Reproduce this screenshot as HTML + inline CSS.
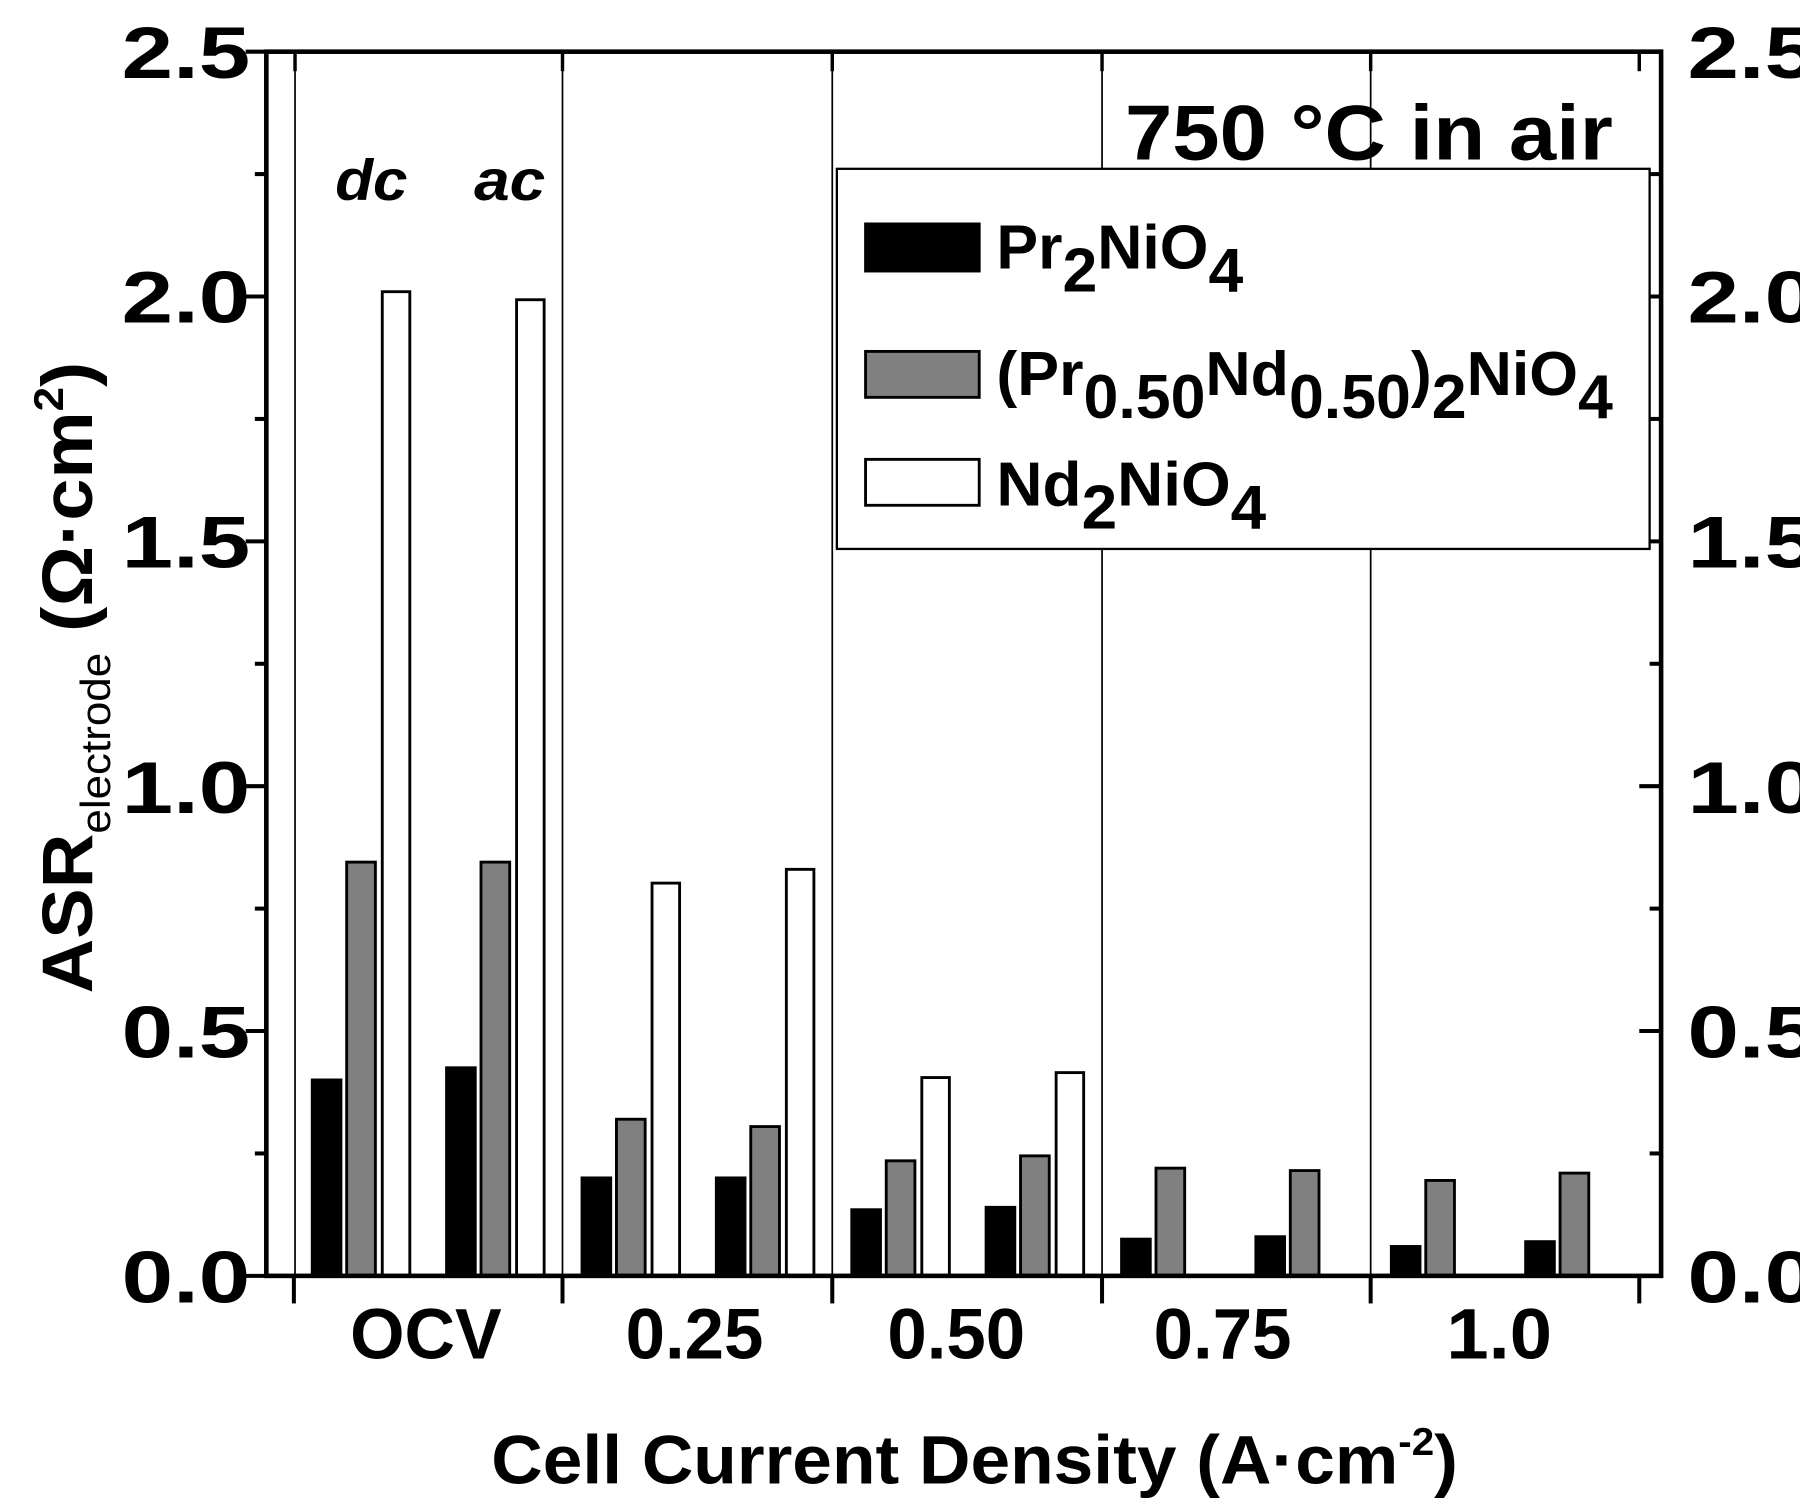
<!DOCTYPE html>
<html><head><meta charset="utf-8"><style>html,body{margin:0;padding:0;background:#fff}svg{display:block}</style></head>
<body>
<svg width="1800" height="1509" viewBox="0 0 1568 1314" preserveAspectRatio="none" xmlns="http://www.w3.org/2000/svg" font-family="Liberation Sans, Arial, sans-serif" font-weight="bold">
<rect width="1568" height="1314" fill="#fff"/>
<g stroke="#000" stroke-width="1.5">
<line x1="257" y1="45" x2="257" y2="1111"/>
<line x1="490" y1="45" x2="490" y2="1111"/>
<line x1="725" y1="45" x2="725" y2="1111"/>
<line x1="960" y1="45" x2="960" y2="1111"/>
<line x1="1194" y1="45" x2="1194" y2="1111"/>
</g>
<g stroke="#000" stroke-width="3">
<line x1="257" y1="45" x2="257" y2="62"/><line x1="490" y1="45" x2="490" y2="62"/><line x1="725" y1="45" x2="725" y2="62"/><line x1="960" y1="45" x2="960" y2="62"/><line x1="1194" y1="45" x2="1194" y2="62"/><line x1="1428" y1="45" x2="1428" y2="62"/>
</g>
<g stroke="#000" stroke-width="2.5">
<g fill="#000">
<rect x="272" y="940.4" width="25" height="170.6"/><rect x="389" y="929.8" width="25" height="181.2"/>
<rect x="507" y="1025.7" width="25" height="85.3"/><rect x="624" y="1025.7" width="25" height="85.3"/>
<rect x="742" y="1053.4" width="25" height="57.6"/><rect x="859" y="1051.3" width="25" height="59.7"/>
<rect x="977" y="1079" width="25" height="32"/><rect x="1094" y="1076.9" width="25" height="34.1"/>
<rect x="1212" y="1085.4" width="25" height="25.6"/><rect x="1329" y="1081.2" width="25" height="29.8"/>
</g>
<g fill="#808080">
<rect x="302" y="750.7" width="25" height="360.3"/><rect x="419" y="750.7" width="25" height="360.3"/>
<rect x="537" y="974.6" width="25" height="136.4"/><rect x="654" y="981" width="25" height="130"/>
<rect x="772" y="1010.8" width="25" height="100.2"/><rect x="889" y="1006.5" width="25" height="104.5"/>
<rect x="1007" y="1017.2" width="25" height="93.8"/><rect x="1124" y="1019.3" width="25" height="91.7"/>
<rect x="1242" y="1027.9" width="25" height="83.1"/><rect x="1359" y="1021.5" width="25" height="89.5"/>
</g>
<g fill="#fff">
<rect x="333" y="254" width="24" height="857"/><rect x="450" y="261" width="24" height="850"/>
<rect x="568" y="769" width="24" height="342"/><rect x="685" y="757" width="24" height="354"/>
<rect x="803" y="938.3" width="24" height="172.7"/><rect x="920" y="934" width="24" height="177"/>
</g>
</g>
<rect x="232" y="45" width="1215" height="1066" fill="none" stroke="#000" stroke-width="4"/>
<g stroke="#000" stroke-width="3.5">
<line x1="232" y1="45" x2="214" y2="45"/><line x1="232" y1="258.2" x2="214" y2="258.2"/><line x1="232" y1="471.4" x2="214" y2="471.4"/><line x1="232" y1="684.6" x2="214" y2="684.6"/><line x1="232" y1="897.8" x2="214" y2="897.8"/><line x1="232" y1="1111" x2="214" y2="1111"/>
<line x1="232" y1="151.6" x2="222" y2="151.6"/><line x1="232" y1="364.8" x2="222" y2="364.8"/><line x1="232" y1="578" x2="222" y2="578"/><line x1="232" y1="791.2" x2="222" y2="791.2"/><line x1="232" y1="1004.4" x2="222" y2="1004.4"/>
<line x1="1447" y1="258.2" x2="1428" y2="258.2"/><line x1="1447" y1="471.4" x2="1428" y2="471.4"/><line x1="1447" y1="684.6" x2="1428" y2="684.6"/><line x1="1447" y1="897.8" x2="1428" y2="897.8"/>
<line x1="1447" y1="151.6" x2="1437" y2="151.6"/><line x1="1447" y1="364.8" x2="1437" y2="364.8"/><line x1="1447" y1="578" x2="1437" y2="578"/><line x1="1447" y1="791.2" x2="1437" y2="791.2"/><line x1="1447" y1="1004.4" x2="1437" y2="1004.4"/>
<line x1="256" y1="1111" x2="256" y2="1135"/><line x1="490" y1="1111" x2="490" y2="1135"/><line x1="725" y1="1111" x2="725" y2="1135"/><line x1="960" y1="1111" x2="960" y2="1135"/><line x1="1194" y1="1111" x2="1194" y2="1135"/><line x1="1428" y1="1111" x2="1428" y2="1135"/>
</g>
<g font-size="64">
<text x="106" y="68" textLength="112" lengthAdjust="spacingAndGlyphs">2.5</text>
<text x="106" y="281" textLength="112" lengthAdjust="spacingAndGlyphs">2.0</text>
<text x="106" y="494" textLength="112" lengthAdjust="spacingAndGlyphs">1.5</text>
<text x="106" y="708" textLength="112" lengthAdjust="spacingAndGlyphs">1.0</text>
<text x="106" y="921" textLength="112" lengthAdjust="spacingAndGlyphs">0.5</text>
<text x="106" y="1134" textLength="112" lengthAdjust="spacingAndGlyphs">0.0</text>
<text x="1470" y="68" textLength="112" lengthAdjust="spacingAndGlyphs">2.5</text>
<text x="1470" y="281" textLength="112" lengthAdjust="spacingAndGlyphs">2.0</text>
<text x="1470" y="494" textLength="112" lengthAdjust="spacingAndGlyphs">1.5</text>
<text x="1470" y="708" textLength="112" lengthAdjust="spacingAndGlyphs">1.0</text>
<text x="1470" y="921" textLength="112" lengthAdjust="spacingAndGlyphs">0.5</text>
<text x="1470" y="1134" textLength="112" lengthAdjust="spacingAndGlyphs">0.0</text>
</g>
<g font-size="62">
<text x="305" y="1183" textLength="132" lengthAdjust="spacingAndGlyphs">OCV</text>
<text x="545" y="1183" textLength="120" lengthAdjust="spacingAndGlyphs">0.25</text>
<text x="773" y="1183" textLength="120" lengthAdjust="spacingAndGlyphs">0.50</text>
<text x="1005" y="1183" textLength="120" lengthAdjust="spacingAndGlyphs">0.75</text>
<text x="1260" y="1183" textLength="92" lengthAdjust="spacingAndGlyphs">1.0</text>
</g>
<text x="428" y="1292" font-size="60" textLength="842" lengthAdjust="spacingAndGlyphs">Cell Current Density (A·cm<tspan dy="-25" font-size="34">-2</tspan><tspan dy="25">)</tspan></text>
<text transform="translate(80,865) rotate(-90)" font-size="62" textLength="550" lengthAdjust="spacingAndGlyphs">ASR<tspan dy="16" font-size="36" font-weight="normal">electrode</tspan><tspan dy="-16"> (Ω·cm</tspan><tspan dy="-25" font-size="36">2</tspan><tspan dy="25">)</tspan></text>
<g font-size="50" font-style="italic">
<text x="292" y="174" textLength="63" lengthAdjust="spacingAndGlyphs">dc</text>
<text x="413" y="174" textLength="62" lengthAdjust="spacingAndGlyphs">ac</text>
</g>
<text x="980" y="139" font-size="68" textLength="425" lengthAdjust="spacingAndGlyphs">750 °C in air</text>
<rect x="729" y="147" width="708" height="331" fill="#fff" stroke="#000" stroke-width="2"/>
<rect x="754" y="195" width="99" height="41" fill="#000" stroke="#000" stroke-width="2.5"/>
<rect x="754" y="306" width="99" height="40" fill="#808080" stroke="#000" stroke-width="2.5"/>
<rect x="754" y="400" width="99" height="40" fill="#fff" stroke="#000" stroke-width="2.5"/>
<g font-size="54">
<text x="868" y="234" textLength="215" lengthAdjust="spacingAndGlyphs">Pr<tspan dy="20">2</tspan><tspan dy="-20">NiO</tspan><tspan dy="20">4</tspan></text>
<text x="868" y="344" textLength="537" lengthAdjust="spacingAndGlyphs">(Pr<tspan dy="20">0.50</tspan><tspan dy="-20">Nd</tspan><tspan dy="20">0.50</tspan><tspan dy="-20">)</tspan><tspan dy="20">2</tspan><tspan dy="-20">NiO</tspan><tspan dy="20">4</tspan></text>
<text x="868" y="440" textLength="235" lengthAdjust="spacingAndGlyphs">Nd<tspan dy="20">2</tspan><tspan dy="-20">NiO</tspan><tspan dy="20">4</tspan></text>
</g>
</svg>
</body></html>
